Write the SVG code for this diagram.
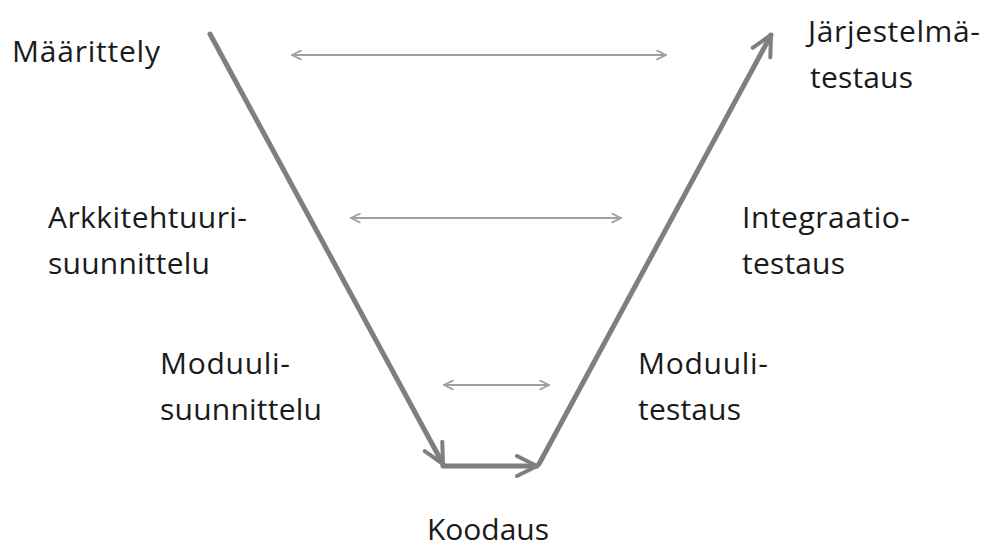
<svg xmlns="http://www.w3.org/2000/svg" width="998" height="548" viewBox="0 0 998 548">
  <style>
    .lbl { font-family: "Open Sans", "Liberation Sans", sans-serif; font-size: 30px; fill: #1a1a1a; }
    .main { fill: none; stroke: #7f7f7f; stroke-width: 5; stroke-linecap: round; stroke-linejoin: round; }
    .link { fill: none; stroke: #a0a0a0; stroke-width: 2; stroke-linecap: round; }
  </style>
  <defs>
    <marker id="head" viewBox="0 0 10 10" refX="9" refY="5" markerWidth="5" markerHeight="5" orient="auto" markerUnits="strokeWidth">
      <path d="M1,1 L9,5 L1,9" fill="none" stroke="#7f7f7f" stroke-width="1.6" stroke-linecap="round" stroke-linejoin="round"/>
    </marker>
    <marker id="thin" viewBox="0 0 10 10" refX="9" refY="5" markerWidth="11" markerHeight="11" orient="auto-start-reverse" markerUnits="userSpaceOnUse">
      <path d="M1,1 L9,5 L1,9" fill="none" stroke="#a0a0a0" stroke-width="1.6" stroke-linecap="round" stroke-linejoin="round"/>
    </marker>
  </defs>

  <!-- V-model flow and the verification links across it -->
  <g id="connectors">
    <path class="main" d="M210,34 L443,464" marker-end="url(#head)"/>
    <path class="main" d="M443,466 L537,466" marker-end="url(#head)"/>
    <path class="main" d="M539,464 L771,35" marker-end="url(#head)"/>
    <path class="link" d="M292,55 L666,55" marker-start="url(#thin)" marker-end="url(#thin)"/>
    <path class="link" d="M351,218 L621,218" marker-start="url(#thin)" marker-end="url(#thin)"/>
    <path class="link" d="M444,385 L549,385" marker-start="url(#thin)" marker-end="url(#thin)"/>
  </g>

  <g id="maarittely"><text class="lbl" x="12" y="62" textLength="148" lengthAdjust="spacing">Määrittely</text></g>
  <g id="arkkitehtuurisuunnittelu">
    <text class="lbl" x="48" y="228" textLength="199" lengthAdjust="spacing">Arkkitehtuuri-</text>
    <text class="lbl" x="48" y="274" textLength="162" lengthAdjust="spacing">suunnittelu</text>
  </g>
  <g id="moduulisuunnittelu">
    <text class="lbl" x="160" y="374" textLength="130" lengthAdjust="spacing">Moduuli-</text>
    <text class="lbl" x="160" y="420" textLength="162" lengthAdjust="spacing">suunnittelu</text>
  </g>
  <g id="koodaus"><text class="lbl" x="427" y="540" textLength="122" lengthAdjust="spacing">Koodaus</text></g>
  <g id="moduulitestaus">
    <text class="lbl" x="638" y="374" textLength="130" lengthAdjust="spacing">Moduuli-</text>
    <text class="lbl" x="638" y="420" textLength="103" lengthAdjust="spacing">testaus</text>
  </g>
  <g id="integraatiotestaus">
    <text class="lbl" x="742" y="228" textLength="168" lengthAdjust="spacing">Integraatio-</text>
    <text class="lbl" x="742" y="274" textLength="103" lengthAdjust="spacing">testaus</text>
  </g>
  <g id="jarjestelmatestaus">
    <text class="lbl" x="808" y="42" textLength="172" lengthAdjust="spacing">Järjestelmä-</text>
    <text class="lbl" x="810" y="88" textLength="103" lengthAdjust="spacing">testaus</text>
  </g>
</svg>
